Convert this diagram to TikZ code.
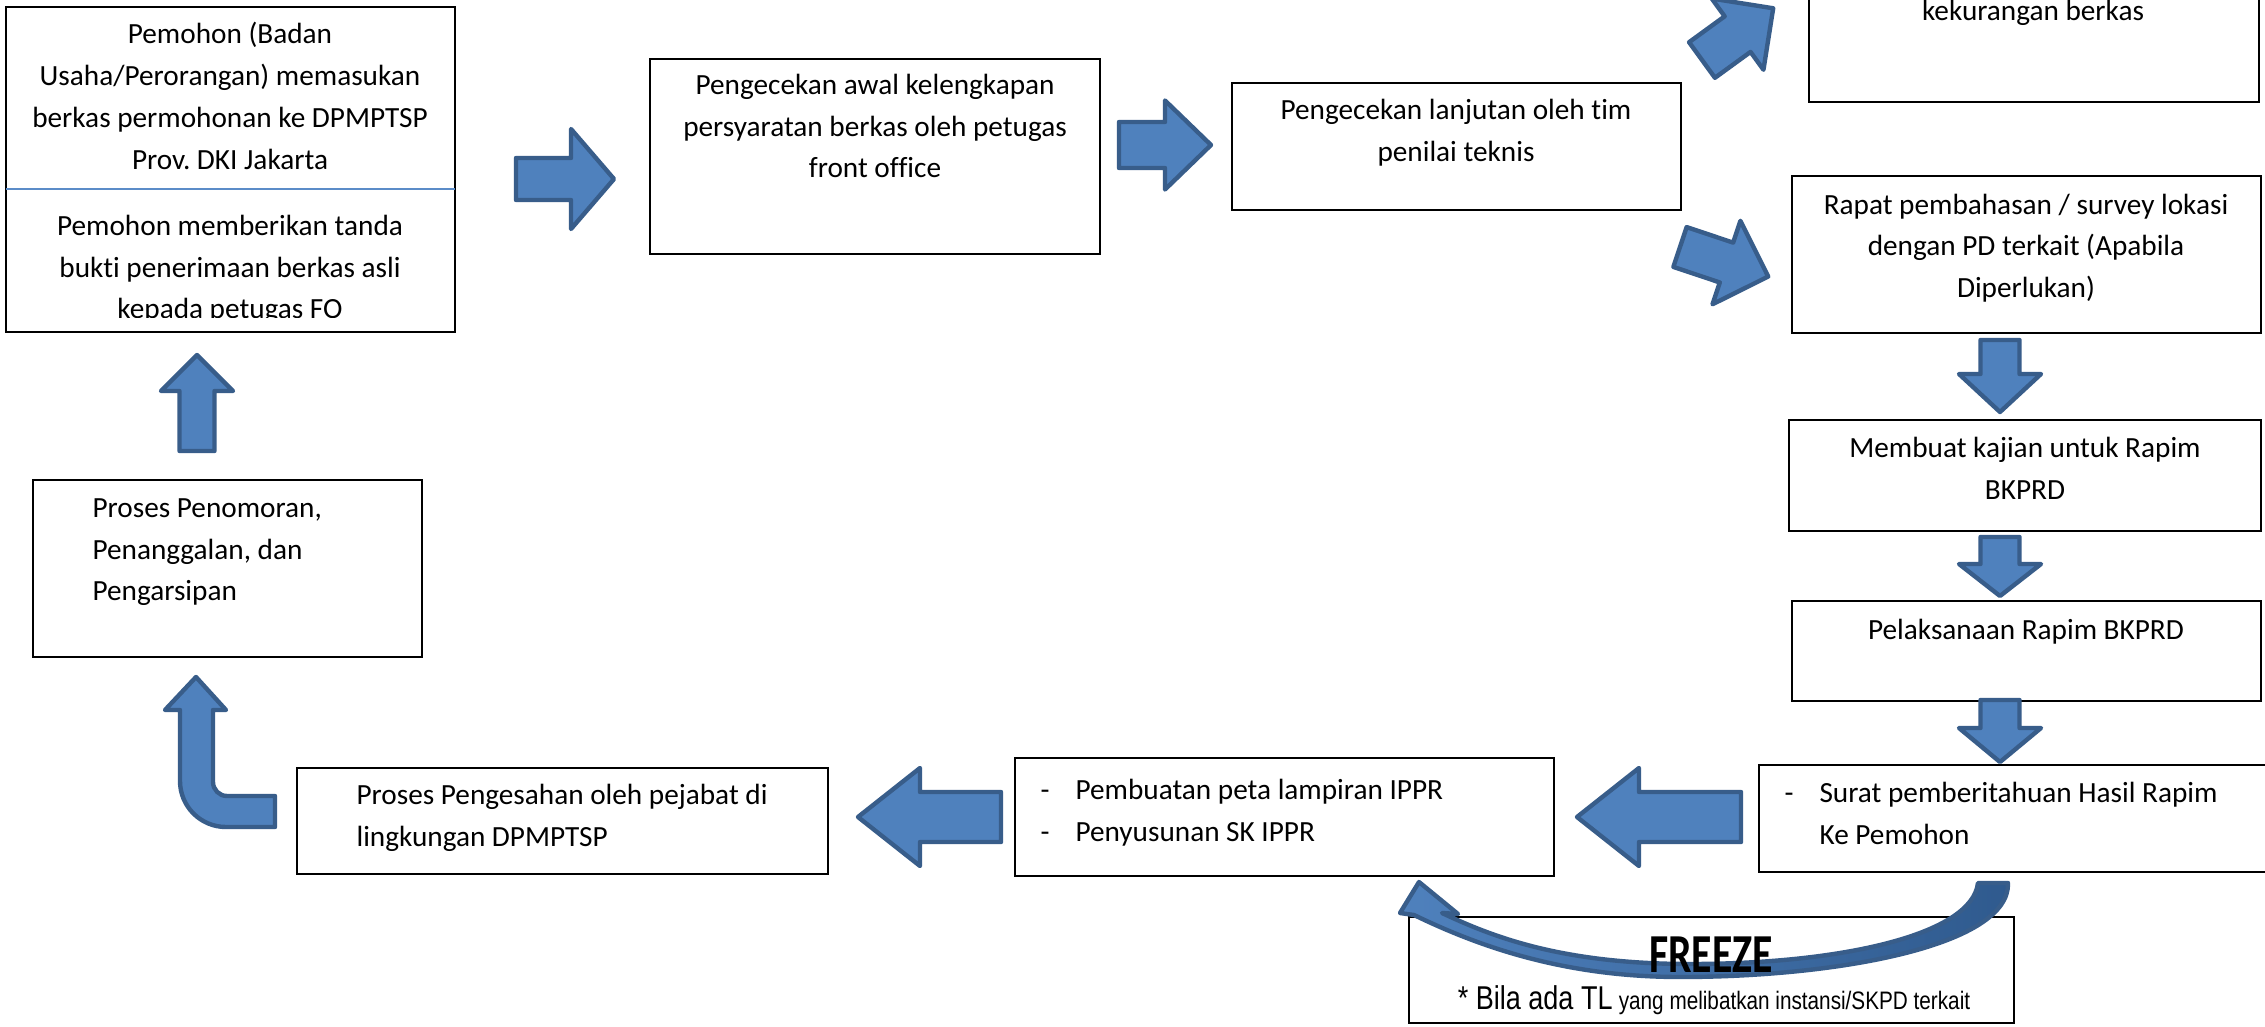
\documentclass[tikz,border=0pt]{standalone}
\usepackage{fontspec}
\setmainfont{Carlito}[Ligatures=NoCommon]
\newfontfamily\narrowfont[FakeStretch=0.82]{Liberation Sans}
\usetikzlibrary{fit}
\definecolor{afill}{HTML}{4F81BD}
\definecolor{aline}{HTML}{385D8A}
\definecolor{adark}{HTML}{2F5A8E}
\definecolor{divline}{HTML}{5B8CC8}
\tikzset{
  boxn/.style={draw=black, line width=0.9pt, fill=white, inner sep=0pt},
  txt/.style={inner sep=0pt, font=\fontsize{10.65}{15.1}\selectfont, align=center},
  ltxt/.style={inner sep=0pt, font=\fontsize{10.65}{15.1}\selectfont, align=left, anchor=west},
  barrow/.style={fill=afill, draw=aline, line width=1.6pt, line join=round},
}
% name, x, y, angle, length, shaft half, head half, head length
\newcommand{\blockarrow}[8]{%
  \begin{scope}[shift={(#2,#3)}, rotate=#4]
    \draw[barrow] (0,-#6) -- ({#5-#8},-#6) -- ({#5-#8},-#7) -- (#5,0)
      -- ({#5-#8},#7) -- ({#5-#8},#6) -- (0,#6) -- cycle;
    \coordinate (#1) at (#5,0);
  \end{scope}}
\newcommand{\dashitem}{\llap{\makebox[12.7pt][l]{-}}}
\frenchspacing
\begin{document}
\begin{tikzpicture}[x=0.364pt, y=-0.364pt]
\useasboundingbox (0,0) rectangle (2265,1027);
\clip (0,0) rectangle (2265,1027);
\fill[white] (0,0) rectangle (2265,1027);

% boxes
\node[boxn, fit={(6,7) (455,332)}] (b1) {};
\draw[divline, line width=0.6pt] (6,189) -- (455,189);
\node[boxn, fit={(650,59) (1100,254)}] (b2) {};
\node[boxn, fit={(1232,83) (1681,210)}] (b3) {};
\node[boxn, fit={(1809,-60) (2259,102)}] (btr) {};
\node[boxn, fit={(1792,176) (2261,333)}] (brapat) {};
\node[boxn, fit={(1789,420) (2261,531)}] (bkajian) {};
\node[boxn, fit={(1792,601) (2261,701)}] (bpelak) {};
\node[boxn, fit={(1759,765) (2275,872)}] (bsurat) {};
\node[boxn, fit={(1015,758) (1554,876)}] (bippr) {};
\node[boxn, fit={(297,768) (828,874)}] (bsah) {};
\node[boxn, fit={(33,480) (422,657)}] (bnomor) {};
\node[boxn, fit={(1409,917) (2014,1023)}] (bfreeze) {};

% texts
\node[txt, font=\fontsize{10.65}{15.4}\selectfont] (t1a) at (230,98) {\strut Pemohon (Badan\\Usaha/Perorangan) memasukan\\berkas permohonan ke DPMPTSP\\\strut Prov. DKI Jakarta};
\begin{scope}
  \clip (8,190) rectangle (453,317);
  \node[txt] (t1b) at (230,269) {\strut Pemohon memberikan tanda\\bukti penerimaan berkas asli\\\strut kepada petugas FO};
\end{scope}
\node[txt] (t2) at (875,128) {\strut Pengecekan awal kelengkapan\\persyaratan berkas oleh petugas\\\strut front office};
\node[txt] (t3) at (1456,132) {\strut Pengecekan lanjutan oleh tim\\\strut penilai teknis};
\node[txt] (ttr) at (2033,12) {\strut kekurangan berkas};
\node[txt] (trapat) at (2026,247.5) {\strut Rapat pembahasan / survey lokasi\\dengan PD terkait (Apabila\\\strut Diperlukan)};
\node[txt] (tkajian) at (2025,470) {\strut Membuat kajian untuk Rapim\\\strut BKPRD};
\node[txt] (tpelak) at (2026,631) {\strut Pelaksanaan Rapim BKPRD};
\node[ltxt] (tsurat) at (1819,815) {\strut\dashitem Surat pemberitahuan Hasil Rapim\\\strut Ke Pemohon};
\node[ltxt] (tippr) at (1075,812) {\strut\dashitem Pembuatan peta lampiran IPPR\\\strut\dashitem Penyusunan SK IPPR};
\node[ltxt] (tsah) at (356,817) {\strut Proses Pengesahan oleh pejabat di\\\strut lingkungan DPMPTSP};
\node[ltxt] (tnomor) at (92,551) {\strut Proses Penomoran,\\Penanggalan, dan\\\strut Pengarsipan};

% block arrows
\blockarrow{a1}{516}{179}{0}{98}{21}{50}{43}
\blockarrow{a2}{1119}{145}{0}{92}{23}{44.5}{46}
\blockarrow{a3}{1702}{60}{36}{88}{22}{44}{44}
\blockarrow{a4}{1680}{247}{-18.5}{93}{21}{44}{44}
\blockarrow{a5}{2000}{340}{-90}{72}{19.5}{41}{38}
\blockarrow{a6}{2000}{537}{-90}{59}{19.5}{41}{32}
\blockarrow{a7}{2000}{700}{-90}{62}{19.5}{41}{34}
\blockarrow{a8}{1741}{817}{180}{164}{25}{49}{62}
\blockarrow{a9}{1001}{817}{180}{143}{25}{49}{62}
\blockarrow{a10}{197}{451}{90}{96}{17.5}{36}{36}

% bent arrow (Pengesahan -> Penomoran)
\draw[barrow] (196,677) -- (226,710) -- (213,710) -- (213,782)
  arc[start angle=180, end angle=90, radius=14] -- (275,796) -- (275,827) -- (226,827)
  arc[start angle=90, end angle=180, radius=46] -- (180,710) -- (165,710) -- cycle;

% curved arrow (FREEZE)
\draw[barrow, left color=afill, right color=adark] (1414,915) -- (1400,913) -- (1419,882) -- (1458,914) -- (1442,913)
  .. controls (1491,936) and (1560,964) .. (1690,964)
  .. controls (1840,964) and (1972,935) .. (1978,883)
  -- (2008,883)
  .. controls (2010,945) and (1840,977) .. (1680,977)
  .. controls (1560,977) and (1474,944) .. (1414,915) -- cycle;

\node[inner sep=0pt] (tfreeze) at (1711,955) {\scalebox{0.76}[1]{\fontsize{20}{24}\selectfont\bfseries FREEZE}};
\node[inner sep=0pt] (tnote) at (1714,1000) {{\narrowfont\fontsize{12}{14}\selectfont * Bila ada TL} {\narrowfont\fontsize{9.2}{11}\selectfont yang melibatkan instansi/SKPD terkait}};
\end{tikzpicture}
\end{document}
